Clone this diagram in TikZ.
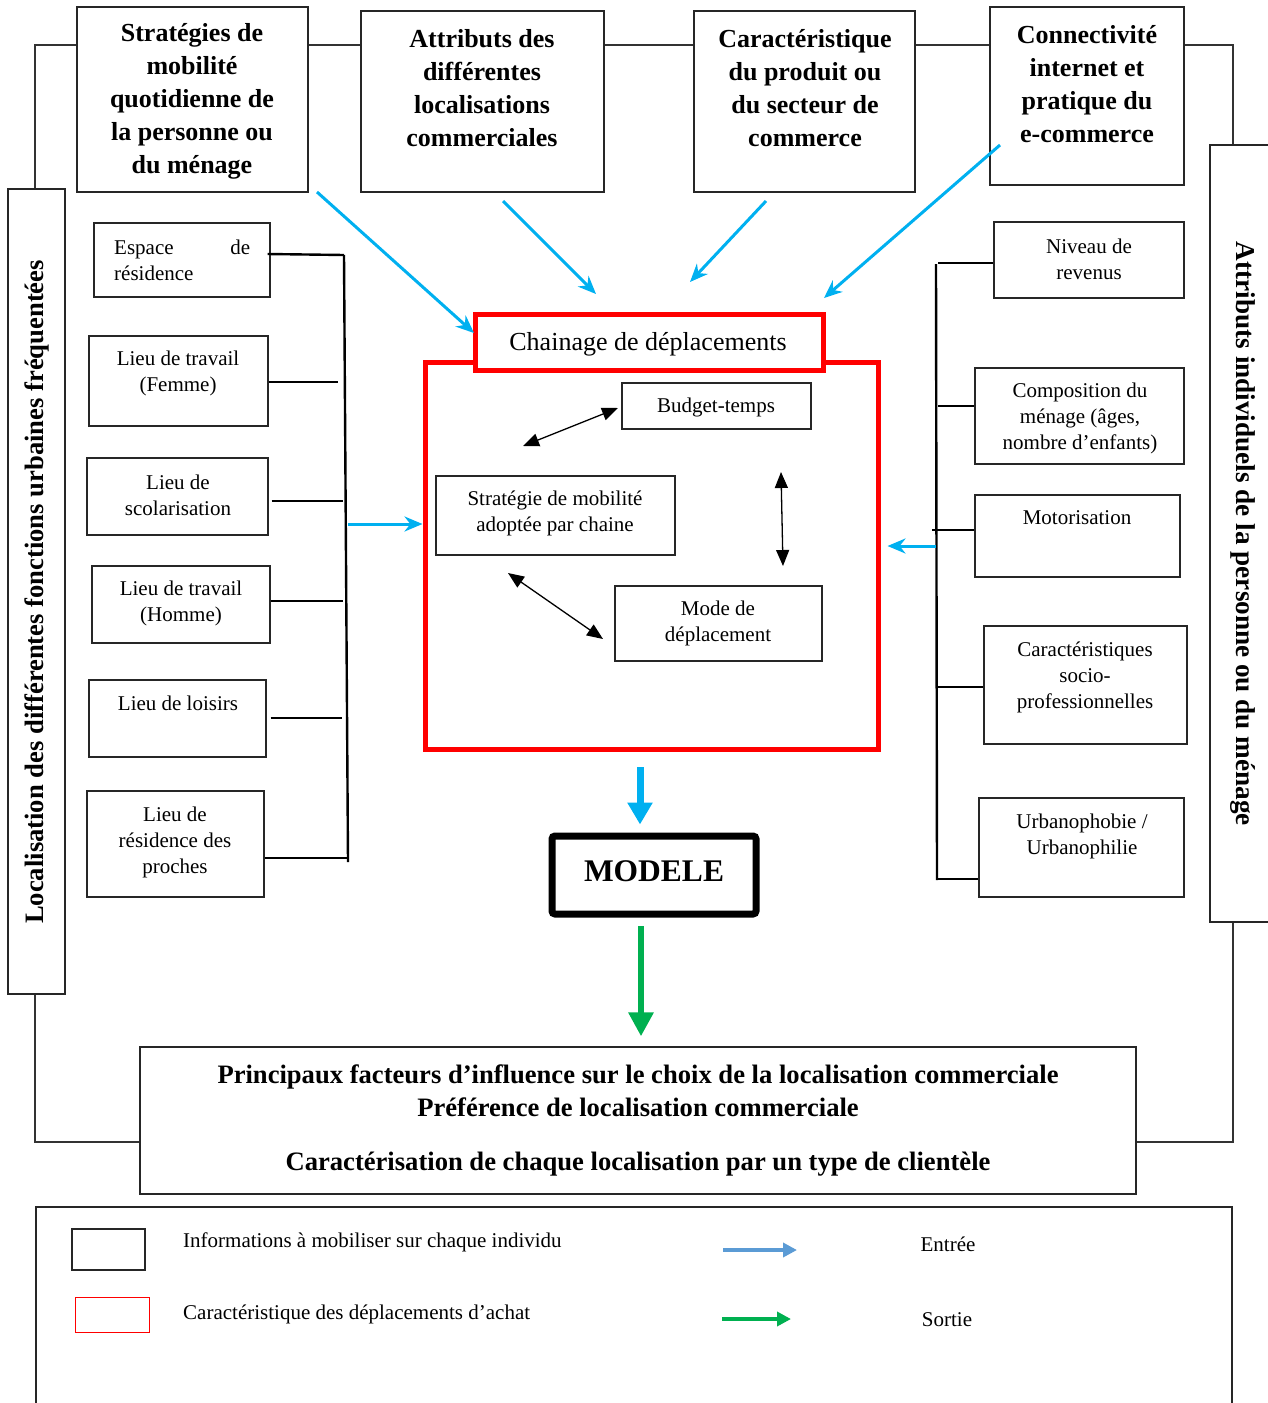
\documentclass[tikz,border=0pt]{standalone}
\usepackage{fontspec}
\setmainfont{Liberation Serif}
\usetikzlibrary{arrows.meta,fit}
\definecolor{cyanA}{HTML}{00B0F0}
\definecolor{greenA}{HTML}{00B050}
\definecolor{legblue}{HTML}{5B9BD5}
\definecolor{redA}{HTML}{FF0000}
\begin{document}
\begin{tikzpicture}[x=1pt,y=-1pt,
  bx/.style={draw=black!85, line width=1.3pt, fill=white, inner sep=0pt},
  redbx/.style={draw=redA, line width=5pt, fill=white, inner sep=0pt},
  lbl/.style={align=center, font=\fontsize{21}{26}\selectfont, inner sep=0pt},
  big/.style={align=center, font=\bfseries\fontsize{26}{33}\selectfont, inner sep=0pt},
  vtxt/.style={font=\bfseries\fontsize{26.6}{30}\selectfont, inner sep=0pt},
  frame/.style={draw=black!80, line width=1.2pt},
  brk/.style={line width=2.4pt},
  bluearr/.style={draw=cyanA, line width=3pt, -{Stealth[length=18pt,width=15pt]}},
  dbl/.style={line width=1.3pt, {Triangle[length=16pt,width=13pt]}-{Triangle[length=16pt,width=13pt]}}
]
\useasboundingbox (0,0) rectangle (1268,1403);

% connecting frame
\draw[frame] (35,45) rectangle (1233,1142);

% top boxes
\node[bx, fit={(77,7)(308,192)}] (top1) {};
\node[big] (top1t) at (192,101) {Stratégies de\\mobilité\\quotidienne de\\la personne ou\\du ménage};
\node[bx, fit={(361,11)(604,192)}] (top2) {};
\node[big] (top2t) at (482,88) {Attributs des\\différentes\\localisations\\commerciales};
\node[bx, fit={(694,11)(915,192)}] (top3) {};
\node[big] (top3t) at (805,88) {Caractéristique\\du produit ou\\du secteur de\\commerce};
\node[bx, fit={(990,7)(1184,185)}] (top4) {};
\node[big] (top4t) at (1087,84) {Connectivité\\internet et\\pratique du\\e-commerce};

% side banners
\node[bx, fit={(8,189)(65,994)}] (lban) {};
\node[vtxt, rotate=90] (lbant) at (37,592) {Localisation des différentes fonctions urbaines fréquentées};
\node[bx, fit={(1210,145)(1290,922)}] (rban) {};
\node[vtxt, rotate=-90, font=\bfseries\fontsize{27.2}{30}\selectfont] (rbant) at (1243,534) {Attributs individuels de la personne ou du ménage};

% left boxes
\node[bx, fit={(94,223)(270,297)}] (esp) {};
\node[lbl, anchor=west, text width=136pt, align=left] (espt) at (114,260) {Espace\hfill de\\résidence};
\node[bx, fit={(89,336)(268,426)}] (fem) {};
\node[lbl] (femt) at (178,373) {Lieu de travail\\(Femme)};
\node[bx, fit={(87,458)(268,535)}] (sco) {};
\node[lbl] (scot) at (178,495) {Lieu de\\scolarisation};
\node[bx, fit={(92,566)(270,643)}] (hom) {};
\node[lbl] (homt) at (181,603) {Lieu de travail\\(Homme)};
\node[bx, fit={(89,680)(266,757)}] (loi) {};
\node[lbl] (loit) at (178,703) {Lieu de loisirs};
\node[bx, fit={(87,791)(264,897)}] (pro) {};
\node[lbl] (prot) at (175,842) {Lieu de\\résidence des\\proches};

% left bracket
\coordinate (lbtop) at (344,255);
\coordinate (lbbot) at (348,862);
\coordinate (lc2) at (338,382);
\coordinate (lc3) at (343,501);
\coordinate (lc4) at (343,601);
\coordinate (lc5) at (342,718);
\coordinate (lc6) at (348,858);
\draw[brk] (lbtop) -- (lbbot);
\draw[brk] (esp.east |- lbtop) ++(-3,-1) -- (lbtop);
\draw[brk] (fem.east |- lc2) -- (lc2);
\draw[brk] (sco.east |- lc3) ++(3,0) -- (lc3);
\draw[brk] (hom.east |- lc4) -- (lc4);
\draw[brk] (loi.east |- lc5) ++(4,0) -- (lc5);
\draw[brk] (pro.east |- lc6) -- (lc6);

% right boxes
\node[bx, fit={(994,222)(1184,298)}] (niv) {};
\node[lbl] (nivt) at (1089,259) {Niveau de\\revenus};
\node[bx, fit={(975,368)(1184,464)}] (comp) {};
\node[lbl] (compt) at (1080,418) {Composition du\\ménage (âges,\\nombre d’enfants)};
\node[bx, fit={(975,495)(1180,577)}] (moto) {};
\node[lbl] (motot) at (1077,518) {Motorisation};
\node[bx, fit={(984,626)(1187,744)}] (soc) {};
\node[lbl] (soct) at (1085,677) {Caractéristiques\\socio-\\professionnelles};
\node[bx, fit={(979,798)(1184,897)}] (urb) {};
\node[lbl] (urbt) at (1082,836) {Urbanophobie /\\Urbanophilie};

% right bracket
\coordinate (rbtop) at (936,264);
\coordinate (rbbot) at (937,880);
\coordinate (rc1) at (938,263);
\coordinate (rc2) at (938,406);
\coordinate (rc3) at (932,530);
\coordinate (rc4) at (938,687);
\coordinate (rc5) at (938,879);
\draw[brk] (rbtop) -- (rbbot);
\draw[brk] (rc1) -- (niv.west |- rc1);
\draw[brk] (rc2) -- (comp.west |- rc2);
\draw[brk] (rc3) -- (moto.west |- rc3);
\draw[brk] (rc4) -- (soc.west |- rc4) ++(6,0);
\draw[brk] (rc5) -- (urb.west |- rc5);

% red boxes
\node[redbx, fit={(425,362)(878,749)}] (chain) {};
\node[redbx, fit={(475,314)(823,370)}] (hdr) {};
\node[inner sep=0pt, font=\fontsize{26}{30}\selectfont] (hdrt) at (648,344) {Chainage de déplacements};

% inner boxes
\node[bx, fit={(622,383)(811,429)}] (bud) {};
\node[lbl] (budt) at (716,407) {Budget-temps};
\node[bx, fit={(436,476)(675,555)}] (strat) {};
\node[lbl] (stratt) at (555,513) {Stratégie de mobilité\\adoptée par chaine};
\node[bx, fit={(615,586)(822,661)}] (mode) {};
\node[lbl] (modet) at (718,623) {Mode de\\déplacement};

% double arrows
\coordinate (d1a) at (523,446); \coordinate (d1b) at (618,408);
\coordinate (d2a) at (781,472); \coordinate (d2b) at (783,566);
\coordinate (d3a) at (508,573); \coordinate (d3b) at (603,639);
\draw[dbl] (d1a) -- (d1b);
\draw[dbl] (d2a) -- (d2b);
\draw[dbl] (d3a) -- (d3b);

% blue input arrows
\coordinate (b1s) at (317,192); \coordinate (b1e) at (474,333);
\coordinate (b2s) at (503,201); \coordinate (b2e) at (596,294);
\coordinate (b3s) at (766,201); \coordinate (b3e) at (690,282);
\coordinate (b4s) at (1000,145); \coordinate (b4e) at (824,298);
\draw[bluearr] (b1s) -- (b1e);
\draw[bluearr] (b2s) -- (b2e);
\draw[bluearr] (b3s) -- (b3e);
\draw[bluearr] (b4s) -- (b4e);
\coordinate (lin) at (348,524);
\draw[bluearr] (lin) -- (chain.west |- lin);
\coordinate (rin) at (936,546);
\draw[bluearr, shorten >=7pt] (rin) -- (chain.east |- rin);

% MODELE
\node[draw=black, line width=7pt, rounded corners=3pt, fill=white, inner sep=0pt,
      fit={(552,836)(756,914)}] (modele) {};
\node[inner sep=0pt, font=\bfseries\fontsize{31.5}{36}\selectfont] (modelet) at (654,871) {MODELE};
\coordinate (ms) at (640,767);
\draw[draw=cyanA, line width=7pt, -{Triangle[length=22pt,width=24pt]}, shorten >=8pt] (ms) -- (ms |- modele.north);

% bottom box
\node[bx, fit={(140,1047)(1136,1194)}] (res) {};
\node[align=center, font=\bfseries\fontsize{26.6}{33}\selectfont, inner sep=0pt] (rest) at (638,1120)
  {Principaux facteurs d’influence sur le choix de la localisation commerciale\\Préférence de localisation commerciale\\[21pt]Caractérisation de chaque localisation par un type de clientèle};
\coordinate (gs) at (641,914);
\draw[draw=greenA, line width=6pt, -{Triangle[length=24pt,width=24pt]}, shorten <=12pt, shorten >=10pt] (gs) -- (gs |- res.north);

% legend
\node[bx, fit={(36,1207)(1232,1430)}] (leg) {};
\node[bx, fit={(72,1229)(145,1270)}] (legk) {};
\node[draw=redA, line width=1pt, fill=white, inner sep=0pt, fit={(75,1297)(149,1332)}] (legr) {};
\node[lbl, anchor=west] (legkt) at (183,1242) {Informations à mobiliser sur chaque individu};
\node[lbl, anchor=west] (legrt) at (183,1314) {Caractéristique des déplacements d’achat};
\coordinate (la1) at (723,1250); \coordinate (la2) at (797,1250);
\coordinate (lg1) at (722,1319); \coordinate (lg2) at (791,1319);
\draw[draw=legblue, line width=3.5pt, -{Triangle[length=14pt,width=14pt]}] (la1) -- (la2);
\draw[draw=greenA, line width=3.5pt, -{Triangle[length=14pt,width=14pt]}] (lg1) -- (lg2);
\node[lbl] (ent) at (948,1244) {Entrée};
\node[lbl] (sor) at (947,1320) {Sortie};
\end{tikzpicture}
\end{document}
